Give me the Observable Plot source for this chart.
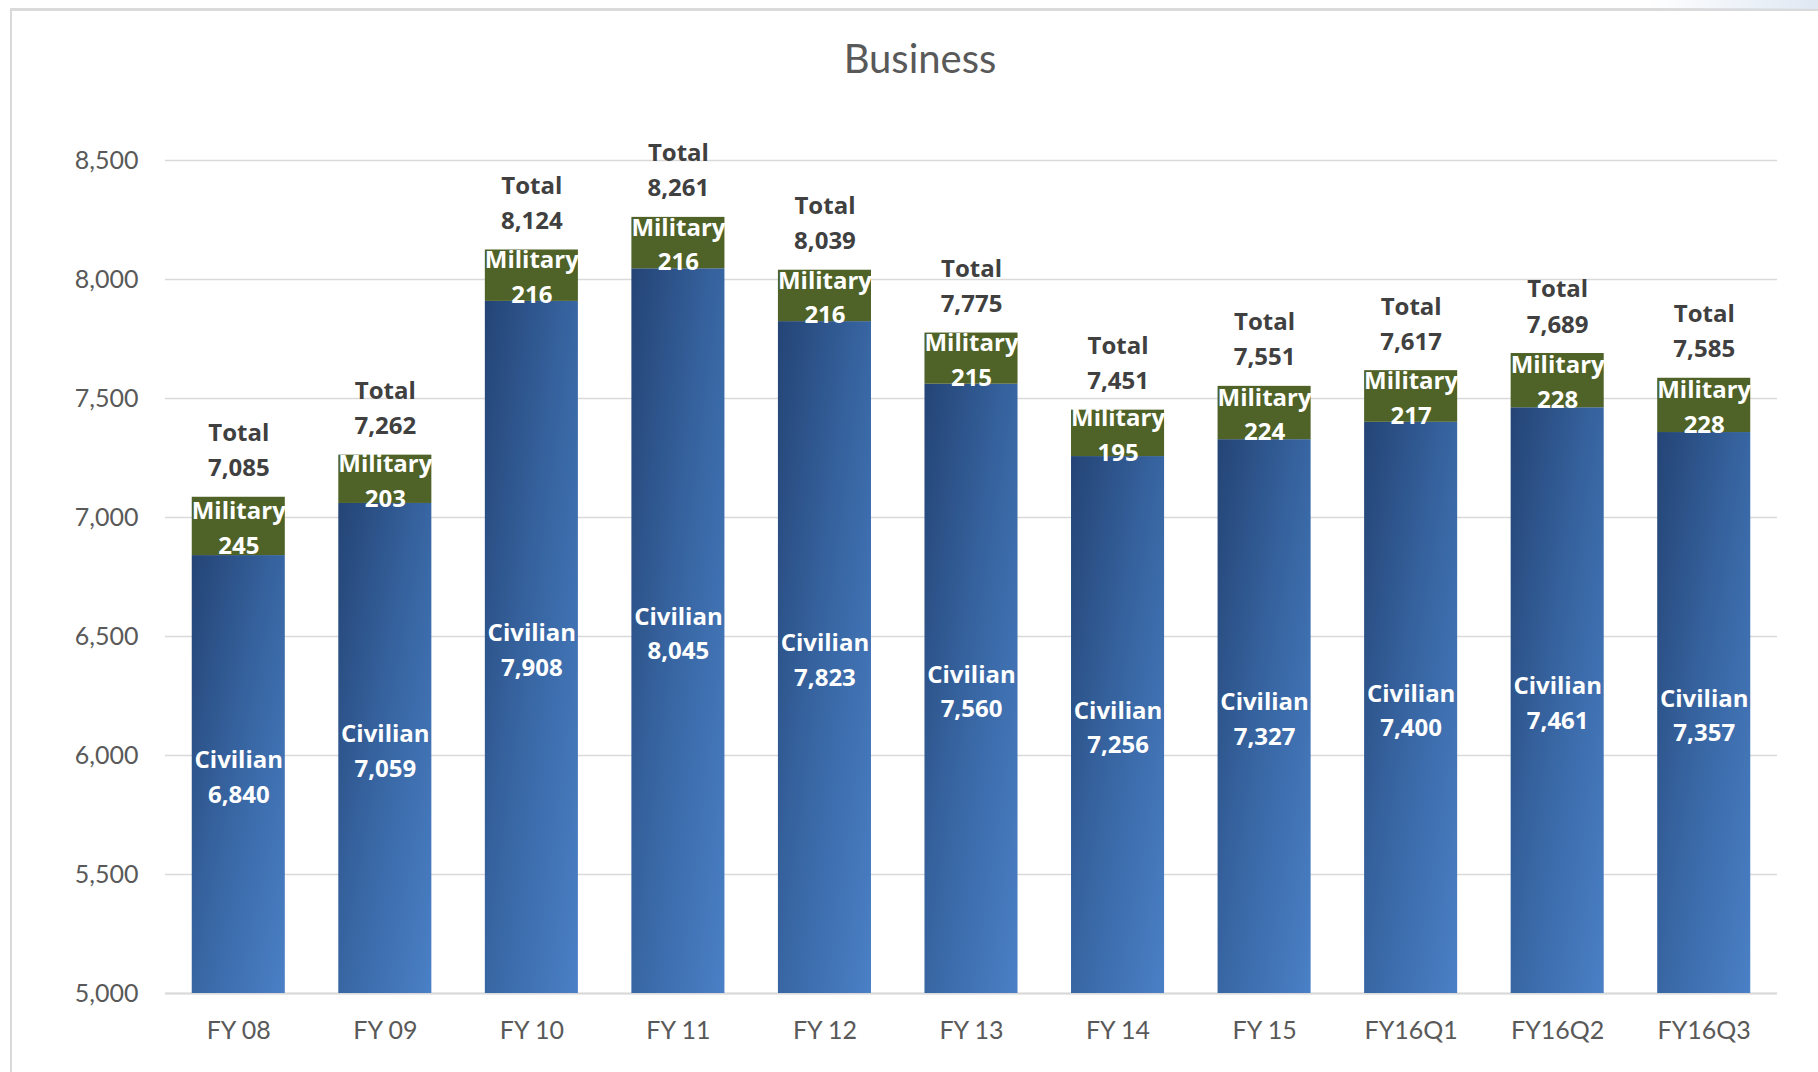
<!DOCTYPE html>
<html>
<head>
<meta charset="utf-8">
<script src="https://cdn.jsdelivr.net/npm/d3@7"></script>
<script src="https://cdn.jsdelivr.net/npm/@observablehq/plot@0.6"></script>
<style>
  html, body { margin: 0; padding: 0; background: #ffffff; }
  body { width: 1818px; height: 1072px; overflow: hidden; position: relative; font-family: Lato, "Open Sans", sans-serif; }
  #frame { position: absolute; left: 10px; top: 8px; width: 1830px; height: 1100px; border-left: 2px solid #d9d9d9; border-top: 3px solid #dadada; box-sizing: border-box; }
  #corner { position: absolute; right: 0; top: 0; width: 170px; height: 9px; background: linear-gradient(90deg, rgba(255,255,255,0), #dfe8f3); }
  #title { position: absolute; left: 0; top: 38px; width: 1818px; padding-left: 22px; box-sizing: border-box; text-align: center; font-size: 40px; line-height: 40px; color: #595959; }
  #chart { position: absolute; left: 0; top: 100px; }
</style>
</head>
<body>
<div id="frame"></div>
<div id="corner"></div>
<div id="title">Business</div>
<div id="chart"></div>
<script>
// ---- Data ----
const categories = ["FY 08", "FY 09", "FY 10", "FY 11", "FY 12", "FY 13", "FY 14", "FY 15", "FY16Q1", "FY16Q2", "FY16Q3"];
const civilian   = [6840, 7059, 7908, 8045, 7823, 7560, 7256, 7327, 7400, 7461, 7357];
const military   = [245, 203, 216, 216, 216, 215, 195, 224, 217, 228, 228];
const totals     = [7085, 7262, 8124, 8261, 8039, 7775, 7451, 7551, 7617, 7689, 7585];
const yTicks     = [5000, 5500, 6000, 6500, 7000, 7500, 8000, 8500];
const yDomain    = [5000, 8500];

const rows = categories.map((c, i) => ({cat: c, civilian: civilian[i], military: military[i], total: totals[i]}));
const fmt = d3.format(",");

const labelFont = 24;
const boldFamily = "'Open Sans', Lato, sans-serif";
const chart = Plot.plot({
  width: 1818,
  height: 972,
  marginLeft: 165,
  marginRight: 41,
  marginTop: 60,
  marginBottom: 79,
  style: {fontFamily: "Lato, 'Open Sans', sans-serif", background: "transparent", overflow: "visible"},
  x: {domain: categories, paddingInner: 0.365, paddingOuter: 0.1825, round: false, label: null},
  y: {domain: yDomain, label: null},
  marks: [
    Plot.gridY(yTicks, {stroke: "#d9d9d9", strokeOpacity: 1, strokeWidth: 1.5}),
    Plot.ruleY([yDomain[0]], {stroke: "#d9d9d9", strokeWidth: 2}),
    Plot.axisY({ticks: yTicks, tickFormat: fmt, tickSize: 0, tickPadding: 27, fontSize: 25, color: "#595959", label: null}),
    Plot.axisX({tickSize: 0, tickPadding: 28, fontSize: 25, color: "#595959", label: null}),
    Plot.barY(rows, {x: "cat", y1: () => yDomain[0], y2: "civilian", fill: "url(#civGrad)"}),
    Plot.barY(rows, {x: "cat", y1: "civilian", y2: "total", fill: "#4f6228"}),
    Plot.text(rows, {
      x: "cat", y: "total", text: d => `Total\n${fmt(d.total)}`,
      lineAnchor: "bottom", dy: -21, lineHeight: 1.46,
      fontSize: labelFont, fontWeight: "bold", fill: "#404040", fontFamily: boldFamily
    }),
    Plot.text(rows, {
      x: "cat", y: d => (d.civilian + d.total) / 2, text: d => `Military\n${fmt(d.military)}`,
      lineAnchor: "middle", dy: -1, lineHeight: 1.44,
      fontSize: labelFont, fontWeight: "bold", fill: "#ffffff", fontFamily: boldFamily
    }),
    Plot.text(rows, {
      x: "cat", y: d => (yDomain[0] + d.civilian) / 2, text: d => `Civilian\n${fmt(d.civilian)}`,
      lineAnchor: "middle", dy: 0, lineHeight: 1.44,
      fontSize: labelFont, fontWeight: "bold", fill: "#ffffff", fontFamily: boldFamily
    })
  ]
});

// gradient for civilian bars
const defs = d3.select(chart).insert("defs", ":first-child");
const g = defs.append("linearGradient").attr("id", "civGrad")
  .attr("x1", 0).attr("y1", 0).attr("x2", 1).attr("y2", 1);
g.append("stop").attr("offset", "0%").attr("stop-color", "#244475");
g.append("stop").attr("offset", "50%").attr("stop-color", "#3866a3");
g.append("stop").attr("offset", "100%").attr("stop-color", "#4a80c6");

document.getElementById("chart").appendChild(chart);
</script>
</body>
</html>
